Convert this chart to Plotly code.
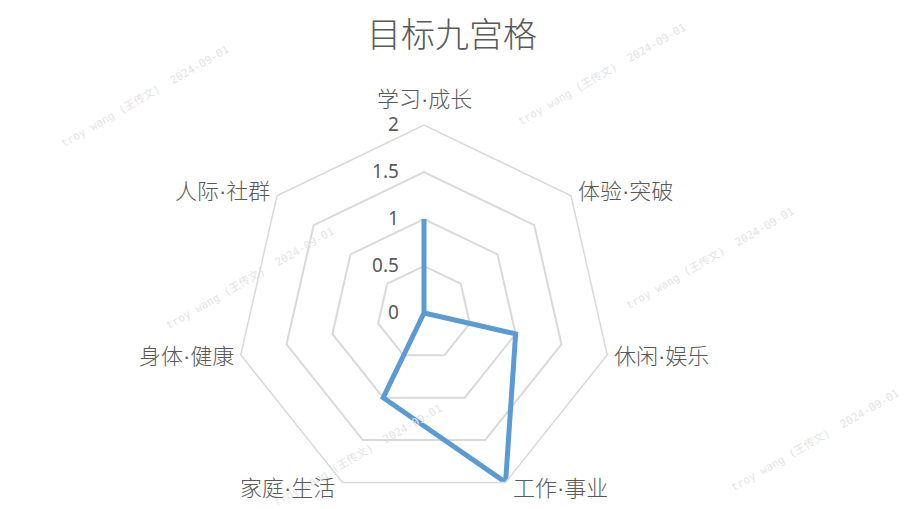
import math
import plotly.graph_objects as go

categories = ["学习·成长", "体验·突破", "休闲·娱乐", "工作·事业", "家庭·生活", "身体·健康", "人际·社群"]
values = [1, 0, 1, 2, 1, 0, 0]
radial_ticks = [0, 0.5, 1, 1.5, 2]
title_text = "目标九宫格"
watermark_text = "troy wang (王传文)  2024-09-01"
watermark_centers = [(145, 96), (602, 74), (250, 278), (710, 258), (358, 455), (815, 440)]

W, H = 904, 509
cx, cy, R = 424, 313, 188
rmax = radial_ticks[-1]

fig = go.Figure()
fig.add_trace(go.Scatterpolar(
    r=values + values[:1],
    theta=categories + categories[:1],
    mode="lines",
    line=dict(color="#5B9BD5", width=5),
    hoverinfo="skip",
    showlegend=False,
))

label_font = dict(family="Liberation Sans, Noto Sans CJK SC", size=22, color="#595959", weight=300)
annotations = []

for (x, y) in watermark_centers:
    annotations.append(dict(
        x=x / W, y=1 - y / H, xref="paper", yref="paper",
        xanchor="center", yanchor="middle",
        text=watermark_text, showarrow=False, textangle=-30,
        font=dict(family="DejaVu Sans Mono, Noto Sans CJK SC", size=11, color="#e4e4e4"),
    ))

n = len(categories)
for k, cat in enumerate(categories):
    th = 2 * math.pi * k / n
    s, c = math.sin(th), math.cos(th)
    vx, vy = cx + R * s, cy - R * c
    if abs(s) < 0.1:
        xa, dx, dy = "center", 0, -26
    elif s > 0:
        xa, dx, dy = "left", 5, -7 * c
    else:
        xa, dx, dy = "right", -5, -7 * c
    annotations.append(dict(
        x=(vx + dx) / W, y=1 - (vy + dy) / H, xref="paper", yref="paper",
        xanchor=xa, yanchor="middle", text=cat, showarrow=False, font=label_font,
    ))

fig.update_layout(
    width=W, height=H,
    margin=dict(l=0, r=0, t=0, b=0),
    paper_bgcolor="white", plot_bgcolor="white",
    title=dict(text=title_text, x=0.5, xanchor="center", y=1 - 35 / H, yanchor="middle",
               font=dict(family="Noto Sans CJK SC", size=34, color="#595959", weight=300)),
    polar=dict(
        domain=dict(x=[(cx - R) / W, (cx + R) / W], y=[1 - (cy + R) / H, 1 - (cy - R) / H]),
        gridshape="linear",
        bgcolor="white",
        radialaxis=dict(
            range=[0, rmax], tickvals=radial_ticks, ticktext=[str(t) for t in radial_ticks],
            angle=90, tickangle=90, side="counterclockwise",
            showline=False, ticks="outside", ticklen=18, tickcolor="rgba(0,0,0,0)",
            showgrid=True, gridcolor="#D9D9D9", gridwidth=1.5,
            tickfont=dict(family="Noto Sans", size=19, color="#595959"),
        ),
        angularaxis=dict(
            direction="clockwise", rotation=90,
            showgrid=False, ticks="", showline=True, showticklabels=False,
            linecolor="#D9D9D9", linewidth=1.5,
        ),
    ),
    annotations=annotations,
)

fig.write_html("out.html")
